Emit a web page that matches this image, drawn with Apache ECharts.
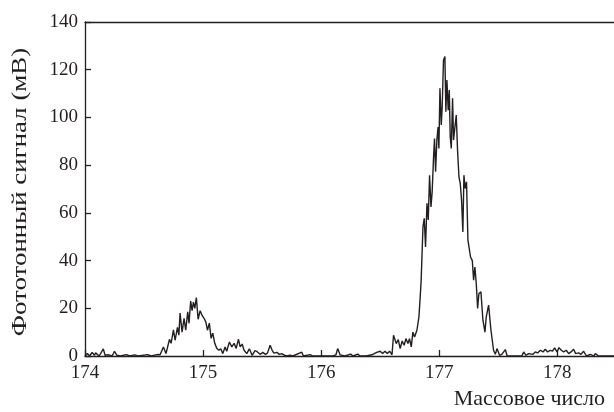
<!DOCTYPE html>
<html>
<head>
<meta charset="utf-8">
<script src="https://cdn.jsdelivr.net/npm/echarts@6/dist/echarts.min.js"></script>
<style>
html,body{margin:0;padding:0;background:#fff;}
#chart{width:614px;height:412px;}
</style>
</head>
<body>
<div id="chart"></div>
<script>
// Mass number (x) and photon signal in mV (y)
const massNumber = [
 174.00,174.02,174.04,174.06,174.08,174.09,174.12,174.155,174.17,174.20,
 174.23,174.25,174.27,174.30,174.35,174.38,174.42,174.45,174.53,174.56,
 174.61,174.636,174.664,174.686,174.715,174.729,174.749,174.763,174.783,174.795,
 174.805,174.822,174.839,174.853,174.87,174.881,174.895,174.907,174.918,174.93,
 174.943,174.958,174.975,174.992,175.008,175.023,175.037,175.053,175.068,175.082,
 175.099,175.116,175.133,175.15,175.167,175.186,175.20,175.223,175.243,175.263,
 175.28,175.30,175.314,175.331,175.347,175.37,175.392,175.415,175.44,175.46,
 175.483,175.506,175.528,175.545,175.568,175.585,175.60,175.625,175.646,175.667,
 175.69,175.71,175.737,175.76,175.836,175.85,175.907,175.93,176.00,176.10,
 176.125,176.14,176.16,176.20,176.25,176.27,176.31,176.33,176.38,176.43,
 176.47,176.486,176.50,176.52,176.54,176.56,176.58,176.60,176.613,176.636,
 176.653,176.669,176.686,176.703,176.718,176.735,176.748,176.763,176.777,176.791,
 176.811,176.828,176.839,176.847,176.862,176.873,176.884,176.896,176.907,176.918,
 176.93,176.94,176.952,176.96,176.969,176.98,176.99,176.997,177.006,177.017,
 177.025,177.036,177.048,177.056,177.065,177.076,177.085,177.093,177.102,177.113,
 177.121,177.133,177.144,177.155,177.167,177.178,177.189,177.20,177.209,177.22,
 177.231,177.243,177.254,177.265,177.28,177.291,177.302,177.314,177.325,177.336,
 177.353,177.37,177.387,177.398,177.418,177.438,177.46,177.475,177.489,177.511,
 177.53,177.545,177.56,177.575,177.70,177.715,177.735,177.757,177.771,177.794,
 177.814,177.833,177.856,177.879,177.898,177.918,177.941,177.96,177.977,177.997,
 178.014,178.034,178.053,178.076,178.096,178.116,178.138,178.155,178.181,178.20,
 178.223,178.246,178.28,178.308,178.322,178.35,178.392,178.45,178.48
];
const signal = [
 0,1,0,1.5,0.3,1.3,0,3,0.3,0.5,
 0,2,0.3,0,0.6,0,0.5,0,0.6,0,
 0.6,0.5,3.8,1,7,5.3,11,6.6,12,8.7,
 18,10,15.8,10.8,18.5,13.7,23,19,22.6,20,
 24.5,15.4,19,17,15.8,14.3,10.8,13.8,7.4,9.6,
 5.3,3.2,2.4,3,1,3.8,2,5.9,3.8,5.3,
 3.2,7,3.8,5,2.4,1,3,0.3,2.3,1.7,
 0.7,1.5,0.7,1.2,4.5,2.4,1.2,1.5,0.7,1,
 0.3,0,0.3,0,1.6,0,0.6,0,0,0,
 0.5,3.1,0.5,0,0.8,0,0.8,0,0,0.5,
 1.5,1,2,1,2,1,2,0.5,8.7,5.2,
 6.9,3.1,6.3,4.5,7.3,5.2,7.3,3.8,10,8,
 10.8,16.4,25,31.8,54,57.7,45.7,64,57,75.8,
 62.5,68.8,83.5,91.2,77.2,90.5,96,87,112.2,96.8,
 104.5,124,125.5,102.4,115.7,103,111.5,91.9,87,108,
 90.5,96,101,86.3,75,72.3,65.3,52,75.8,70.2,
 73,48.6,49.3,41.5,40,31.8,37.3,30,19.9,26.2,
 26.9,15,10,16.4,21.3,10.8,2.4,0.7,3.1,0.3,
 0.7,0,2.7,0,0,1.7,0.3,1,1.7,0.7,
 1.7,1.3,2.4,1.7,2.8,1.7,2.4,2,3.4,1.7,
 3.5,2.4,1.7,2.4,1,1.7,2.8,1,1.3,0.7,
 2,0,0.7,0,1,0,0,0,0
];
const xTitle = 'Массовое число';
const yTitle = 'Фототонный сигнал (мВ)';

const seriesData = massNumber.map((m, i) => [m, signal[i]]);
const fontFam = '"Liberation Serif", "DejaVu Serif", serif';
const ink = '#231f20';

const chart = echarts.init(document.getElementById('chart'), null, {renderer: 'canvas'});
chart.setOption({
  animation: false,
  backgroundColor: '#fff',
  grid: {left: 85, right: 0, top: 22, bottom: 56},
  graphic: [{
    type: 'text', x: 20, y: 192, rotation: Math.PI / 2, scaleX: 1.28,
    style: {text: yTitle, fontFamily: fontFam, fontSize: 21, fill: ink, align: 'center', verticalAlign: 'middle'}
  }],
  xAxis: [{
    type: 'value', min: 174, max: 178.48, interval: 1,
    position: 'bottom',
    name: xTitle, nameLocation: 'end', nameGap: -9,
    nameTextStyle: {fontFamily: fontFam, fontSize: 22, color: ink, align: 'right', verticalAlign: 'top', padding: [32, 0, 0, 0]},
    axisLine: {show: true, lineStyle: {color: ink, width: 1.3}},
    axisTick: {show: true, inside: true, length: 6, lineStyle: {color: ink, width: 1.3}},
    axisLabel: {fontFamily: fontFam, fontSize: 19, color: ink, margin: 8, showMaxLabel: false,
      formatter: v => (Math.abs(v - Math.round(v)) < 1e-6 ? String(Math.round(v)) : '')},
    splitLine: {show: false}
  }, {
    type: 'value', min: 174, max: 178.48, position: 'top',
    axisLine: {show: true, lineStyle: {color: ink, width: 1.3}},
    axisTick: {show: false}, axisLabel: {show: false}, splitLine: {show: false}
  }],
  yAxis: {
    type: 'value', min: 0, max: 140, interval: 20,
    axisLine: {show: true, lineStyle: {color: ink, width: 1.3}},
    axisTick: {show: true, inside: true, length: 6, lineStyle: {color: ink, width: 1.3}},
    axisLabel: {fontFamily: fontFam, fontSize: 19, color: ink, margin: 7},
    splitLine: {show: false}
  },
  series: [{
    type: 'line', xAxisIndex: 0, data: seriesData,
    showSymbol: false, symbol: 'none',
    lineStyle: {color: ink, width: 1.4},
    z: 3
  }]
});
</script>
</body>
</html>
